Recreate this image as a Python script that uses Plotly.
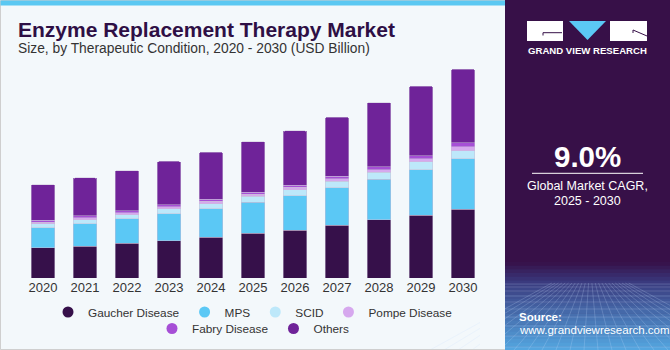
import plotly.graph_objects as go
import numpy as np

years = ["2020", "2021", "2022", "2023", "2024", "2025", "2026", "2027", "2028", "2029", "2030"]
gaucher = [2.48, 2.64, 2.89, 3.08, 3.38, 3.68, 3.96, 4.34, 4.79, 5.20, 5.69]
mps = [1.65, 1.84, 2.00, 2.23, 2.34, 2.56, 2.85, 3.11, 3.35, 3.74, 4.15]
scid = [0.35, 0.33, 0.33, 0.39, 0.41, 0.50, 0.47, 0.52, 0.58, 0.66, 0.66]
pompe = [0.14, 0.18, 0.17, 0.18, 0.20, 0.19, 0.20, 0.23, 0.23, 0.25, 0.34]
fabry = [0.13, 0.17, 0.16, 0.17, 0.19, 0.17, 0.19, 0.22, 0.22, 0.25, 0.32]
others = [2.95, 3.11, 3.30, 3.57, 3.88, 4.15, 4.48, 4.87, 5.31, 5.75, 6.08]

series_names = ["Gaucher Disease", "MPS", "SCID", "Pompe Disease", "Fabry Disease", "Others"]
series_vals = [gaucher, mps, scid, pompe, fabry, others]
colors = ["#36104A", "#5BC8F5", "#BDE8FA", "#D6A8EE", "#A64FD6", "#6F2399"]

W, H = 670, 350
L, R, T, B = 22, 186, 60, 72
PW, PH = W - L - R, H - T - B


def px(x):
    return (x - L) / PW


def py(y):
    return (H - B - y) / PH


fig = go.Figure()
for name, vals, col in zip(series_names, series_vals, colors):
    fig.add_trace(go.Bar(
        x=years, y=vals, name=name,
        marker=dict(color=col, line=dict(width=0.6, color="rgba(200,190,215,0.8)")),
        showlegend=False, hoverinfo="skip"))

legend_ids = ["legend", "legend", "legend", "legend", "legend2", "legend2"]
for name, col, lg in zip(series_names, colors, legend_ids):
    fig.add_trace(go.Scatter(x=[years[0]], y=[None], mode="markers", name=name,
                             marker=dict(symbol="circle", size=11, color=col),
                             legend=lg, showlegend=True))

shapes = []
shapes.append(dict(type="rect", xref="paper", yref="paper", x0=px(0.5), x1=px(506), y0=py(349.5), y1=py(0.5),
                   fillcolor="#F3F8FB", line=dict(color="#CFCFCF", width=1), layer="below"))
shapes.append(dict(type="rect", xref="paper", yref="paper", x0=px(0.5), x1=px(506), y0=py(5.5), y1=py(0.5),
                   fillcolor="#5BC8F2", line=dict(width=0), layer="below"))
shapes.append(dict(type="rect", xref="paper", yref="paper", x0=px(505), x1=px(670), y0=py(350), y1=py(0),
                   fillcolor="#371048", line=dict(width=0), layer="below"))
c0 = np.array([0x37, 0x10, 0x48])
c1 = np.array([0x3A, 0x3A, 0x7E])
c2 = np.array([0x55, 0xA8, 0xE2])
n = 24
y_start, y_mid, y_end = 262, 282, 350
for i in range(n):
    y0 = y_start + (y_end - y_start) * i / n
    y1 = y_start + (y_end - y_start) * (i + 1) / n
    ym = (y0 + y1) / 2
    if ym < y_mid:
        t = (ym - y_start) / (y_mid - y_start)
        c = c0 + (c1 - c0) * t
    else:
        t = (ym - y_mid) / (y_end - y_mid)
        c = c1 + (c2 - c1) * t
    col = "rgb(%d,%d,%d)" % tuple(int(v) for v in c)
    shapes.append(dict(type="rect", xref="paper", yref="paper", x0=px(505), x1=px(670), y0=py(y1 + 0.5), y1=py(y0),
                       fillcolor=col, line=dict(width=0), layer="below"))
# decorative perspective grid
grid_col = "rgba(200,225,255,0.22)"
for gy in [284, 287, 291, 296, 302, 309, 317, 326, 336, 347]:
    shapes.append(dict(type="line", xref="paper", yref="paper", x0=px(505), x1=px(670), y0=py(gy), y1=py(gy),
                       line=dict(color=grid_col, width=1), layer="below"))
vx, vy = 590, 262
for bx in range(430, 760, 14):
    # line from vanishing point direction, clipped to y>=283
    t0 = (283 - vy) / (350 - vy)
    x_top = vx + (bx - vx) * t0
    shapes.append(dict(type="line", xref="paper", yref="paper", x0=px(max(505, min(670, x_top))), y0=py(283),
                       x1=px(bx), y1=py(350), line=dict(color=grid_col, width=1), layer="below"))
# cover overflow of grid lines outside the right panel
shapes.append(dict(type="rect", xref="paper", yref="paper", x0=px(480), x1=px(505), y0=py(350), y1=py(270),
                   fillcolor="#F3F8FB", line=dict(width=0), layer="below"))
shapes.append(dict(type="line", xref="paper", yref="paper", x0=px(0.5), x1=px(505), y0=py(349.5), y1=py(349.5),
                   line=dict(color="#CFCFCF", width=1), layer="below"))
# logo
shapes.append(dict(type="rect", xref="paper", yref="paper", x0=px(527), x1=px(563), y0=py(41), y1=py(21),
                   fillcolor="white", line=dict(width=0)))
shapes.append(dict(type="path", xref="paper", yref="paper",
                   path="M %f %f L %f %f L %f %f" % (px(543), py(35.5), px(543), py(32.7), px(562), py(32.7)),
                   line=dict(color="#371048", width=1)))
shapes.append(dict(type="path", xref="paper", yref="paper",
                   path="M %f %f L %f %f L %f %f Z" % (px(569), py(21), px(606), py(21), px(587.5), py(40)),
                   fillcolor="#5BC8F5", line=dict(width=0)))
shapes.append(dict(type="rect", xref="paper", yref="paper", x0=px(610), x1=px(647), y0=py(41), y1=py(21),
                   fillcolor="white", line=dict(width=0)))
shapes.append(dict(type="path", xref="paper", yref="paper",
                   path="M %f %f L %f %f L %f %f" % (px(633), py(33), px(633), py(30), px(647), py(36)),
                   line=dict(color="#371048", width=1)))
shapes.append(dict(type="line", xref="paper", yref="paper", x0=px(532), x1=px(643), y0=py(173.3), y1=py(173.3),
                   line=dict(color="white", width=1)))

annotations = [
    dict(text="<b>Enzyme Replacement Therapy Market</b>", x=px(16), y=py(29), xanchor="left", yanchor="middle",
         font=dict(size=21, color="#2E0F45", family="Liberation Sans")),
    dict(text="Size, by Therapeutic Condition, 2020 - 2030 (USD Billion)", x=px(16), y=py(49), xanchor="left",
         yanchor="middle", font=dict(size=13.8, color="#333333", family="Liberation Sans")),
    dict(text="<b>GRAND VIEW RESEARCH</b>", x=px(587), y=py(50.7), xanchor="center", yanchor="middle",
         font=dict(size=9.6, color="white", family="Liberation Sans")),
    dict(text="<b>9.0%</b>", x=px(587), y=py(156), xanchor="center", yanchor="middle",
         font=dict(size=29.5, color="white", family="Liberation Sans")),
    dict(text="Global Market CAGR,", x=px(587), y=py(186), xanchor="center", yanchor="middle",
         font=dict(size=12.5, color="white", family="Liberation Sans")),
    dict(text="2025 - 2030", x=px(587), y=py(201), xanchor="center", yanchor="middle",
         font=dict(size=12.5, color="white", family="Liberation Sans")),
    dict(text="<b>Source:</b>", x=px(517), y=py(316.5), xanchor="left", yanchor="middle",
         font=dict(size=11.5, color="white", family="Liberation Sans")),
    dict(text="www.grandviewresearch.com", x=px(517), y=py(329.5), xanchor="left", yanchor="middle",
         font=dict(size=11.5, color="white", family="Liberation Sans")),
]
for a in annotations:
    a.update(xref="paper", yref="paper", showarrow=False)
    fig.add_annotation(**a)

tot_2024 = sum(v[4] for v in series_vals)
fig.add_annotation(x=years[4], y=tot_2024, text="$%.1fB" % 10.4, showarrow=False, yanchor="bottom", yshift=8,
                   font=dict(size=14, color="#333333", family="Liberation Sans"))

fig.update_layout(
    width=W, height=H, barmode="stack", bargap=0.43, barcornerradius=2,
    margin=dict(l=L, r=R, t=T, b=B, autoexpand=False),
    paper_bgcolor="#FFFFFF", plot_bgcolor="rgba(0,0,0,0)",
    shapes=shapes,
    xaxis=dict(type="category", range=[-0.5, 10.5], categoryorder="array", categoryarray=years,
               showgrid=False, showline=False, ticks="", zeroline=False,
               tickfont=dict(size=13, color="#333333", family="Liberation Sans")),
    yaxis=dict(range=[0, 18], visible=False, showgrid=False, zeroline=False),
    legend=dict(orientation="h", x=px(253), y=py(297.5), xanchor="center", yanchor="top", traceorder="normal",
                font=dict(size=11.8, color="#333333", family="Liberation Sans"), bgcolor="rgba(0,0,0,0)"),
    legend2=dict(orientation="h", x=px(253), y=py(314), xanchor="center", yanchor="top", traceorder="normal",
                 font=dict(size=11.8, color="#333333", family="Liberation Sans"), bgcolor="rgba(0,0,0,0)"),
    hovermode=False,
)

fig.write_html("out.html")
